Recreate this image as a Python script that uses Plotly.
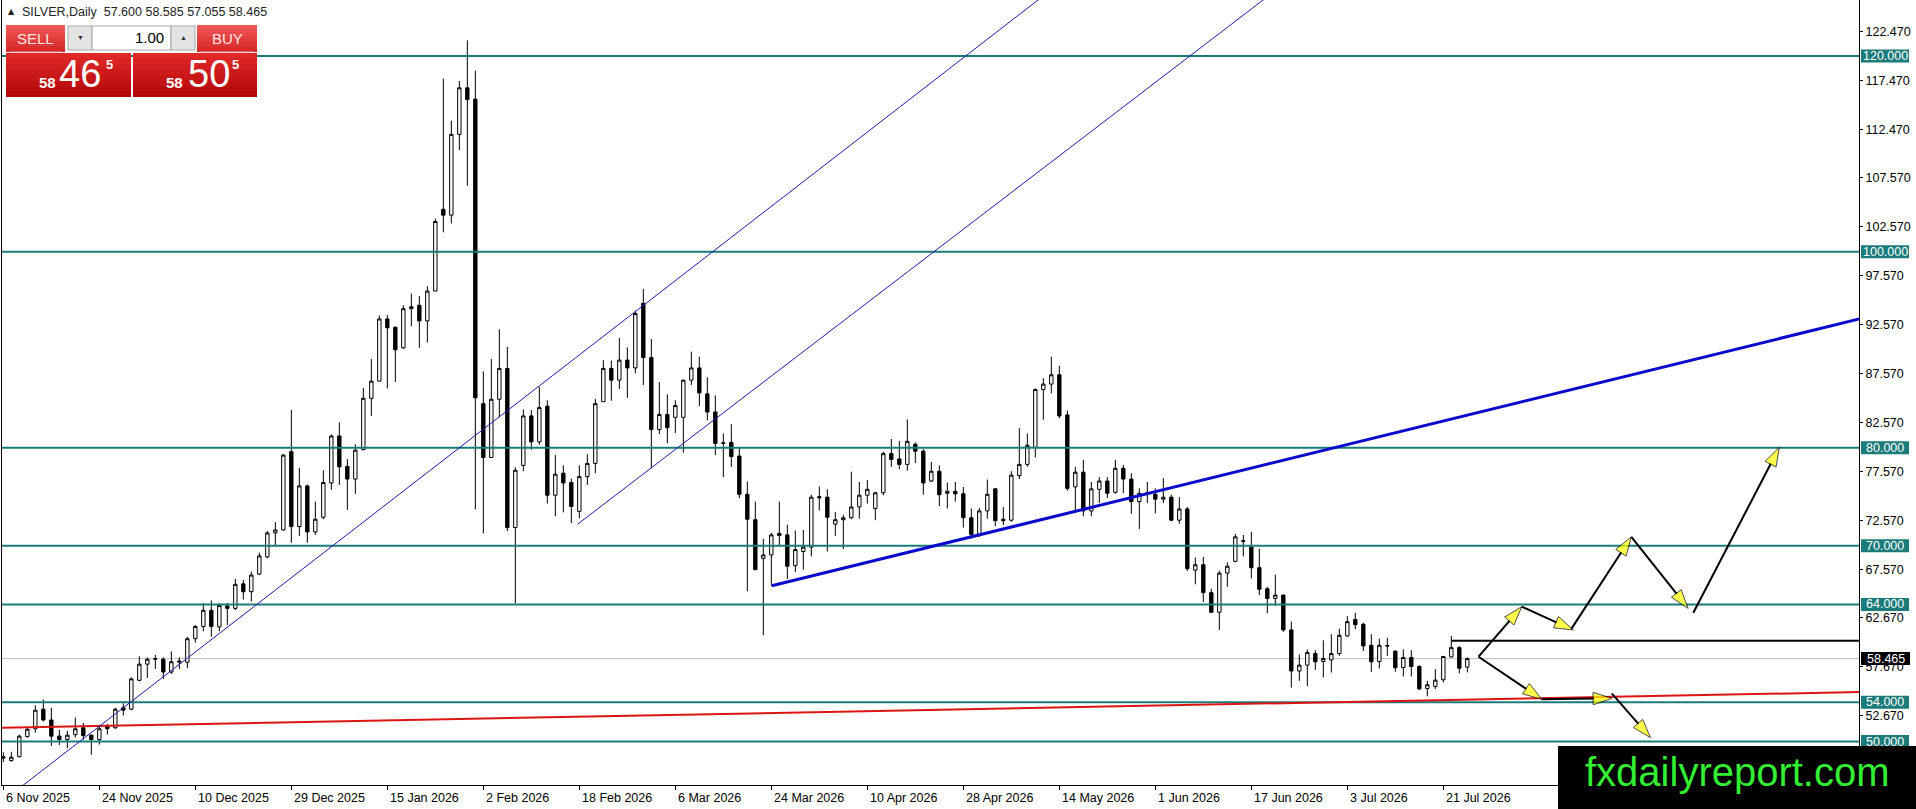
import plotly.graph_objects as go

# daily candles, bar 0 = 6 Nov 2025, one label every 12 bars
opens = [48.3, 48.05, 48.45, 50.5, 51.3, 53.3, 52.2, 50.55, 50.2, 50.7,
         51.4, 50.65, 50.2, 51.55, 51.4, 53.45, 53.3, 56.25, 57.9, 58.4,
         58.4, 57.1, 58.1, 58.1, 60.5, 61.75, 63.4, 61.7, 63.85, 63.6,
         66.1, 65.3, 67.1, 68.85, 71.3, 71.6, 79.6, 71.95, 76.1, 71.4,
         72.9, 76.4, 81.2, 78.1, 76.8, 79.8, 85.05, 86.8, 93.15, 92.3,
         90.2, 94.2, 94.55, 92.95, 96.0, 104.35, 103.75, 112.0, 116.75, 115.6,
         84.5, 79.0, 84.95, 88.1, 71.85, 78.2, 83.25, 80.6, 84.25, 75.15,
         77.4, 76.45, 73.5, 77.05, 78.4, 84.7, 88.1, 86.9, 88.95, 88.15,
         94.75, 89.2, 81.85, 83.4, 83.1, 83.1, 86.9, 88.15, 85.5, 83.65,
         80.5, 80.55, 79.15, 75.25, 72.65, 68.7, 69.05, 71.25, 71.1, 67.95,
         69.4, 69.85, 75.0, 74.95, 72.2, 72.65, 72.85, 73.95, 75.15, 73.8,
         75.4, 79.4, 78.85, 78.3, 80.35, 79.65, 76.6, 77.6, 75.35, 75.55,
         75.3, 72.85, 71.15, 73.55, 75.8, 72.7, 72.6, 77.15, 78.3, 80.05,
         85.95, 86.5, 87.45, 83.35, 76.0, 77.5, 73.55, 75.75, 76.6, 75.45,
         77.9, 76.8, 74.5, 75.25, 75.25, 74.75, 74.95, 72.6, 73.75, 67.5,
         68.05, 65.2, 63.2, 67.2, 68.4, 70.5, 69.85, 67.75, 65.6, 64.6,
         64.95, 61.4, 57.2, 57.8, 58.98, 58.17, 58.34, 58.98, 60.78, 62.47,
         61.97, 59.83, 58.17, 59.8, 59.22, 57.56, 58.58, 57.66, 55.42, 55.63,
         56.31, 58.64, 59.59, 57.6]
highs = [48.9, 48.95, 50.7, 51.45, 53.7, 54.3, 53.45, 51.2, 51.1, 52.45,
         51.9, 50.7, 51.7, 51.8, 53.45, 53.9, 56.55, 58.7, 58.6, 58.85,
         58.6, 59.2, 58.6, 60.7, 61.9, 64.15, 64.4, 64.1, 64.15, 66.6,
         66.5, 67.35, 69.3, 71.5, 72.4, 79.35, 83.85, 77.95, 76.25, 74.5,
         77.7, 81.35, 82.6, 78.85, 80.35, 86.1, 89.05, 93.5, 93.55, 92.4,
         94.55, 95.75, 95.5, 96.5, 103.4, 117.7, 113.4, 117.45, 121.6, 118.5,
         87.8, 89.05, 92.1, 90.3, 78.0, 83.9, 83.85, 86.2, 84.85, 79.25,
         78.2, 76.85, 78.2, 79.35, 85.0, 88.95, 88.9, 91.2, 90.25, 94.0,
         96.2, 91.1, 86.7, 85.45, 84.85, 86.95, 89.8, 89.3, 87.2, 85.35,
         81.45, 82.4, 79.95, 76.55, 74.5, 70.7, 71.3, 74.5, 72.15, 71.55,
         71.6, 75.2, 76.05, 75.75, 73.45, 73.15, 77.55, 76.5, 76.7, 75.5,
         79.6, 80.9, 80.7, 82.9, 80.55, 79.85, 78.55, 78.2, 76.45, 76.5,
         76.0, 73.8, 73.85, 76.75, 75.9, 73.95, 77.6, 82.0, 81.45, 86.05,
         87.1, 89.3, 88.35, 83.8, 78.05, 78.75, 76.5, 77.0, 77.0, 78.75,
         78.25, 77.4, 75.85, 76.5, 75.85, 76.9, 75.2, 74.95, 73.95, 68.8,
         68.85, 65.6, 67.45, 68.3, 71.2, 71.1, 71.4, 69.7, 65.8, 67.05,
         65.0, 62.25, 58.9, 59.4, 59.32, 60.34, 60.95, 61.53, 62.81, 63.15,
         62.14, 60.95, 60.51, 60.6, 59.32, 59.42, 59.32, 57.8, 56.2, 57.39,
         58.75, 60.78, 59.76, 58.585]
lows = [47.9, 47.95, 48.4, 50.4, 50.9, 52.05, 49.55, 49.65, 49.3, 50.4,
        50.2, 48.65, 49.7, 50.7, 51.3, 52.65, 53.2, 56.15, 56.5, 57.4,
        56.4, 56.9, 57.4, 57.5, 60.1, 61.25, 60.7, 61.25, 61.9, 63.4,
        64.5, 64.3, 67.0, 68.7, 69.96, 71.55, 70.3, 71.0, 70.3, 71.1,
        72.7, 75.7, 76.2, 73.65, 75.3, 79.75, 83.25, 86.8, 86.05, 86.7,
        90.1, 92.4, 90.2, 90.75, 96.0, 102.0, 102.9, 110.4, 106.75, 73.7,
        71.25, 79.0, 83.1, 71.5, 64.1, 77.6, 79.8, 80.3, 74.3, 73.0,
        73.4, 72.3, 72.8, 76.2, 77.4, 84.7, 84.8, 86.0, 85.1, 87.6,
        86.4, 77.9, 81.4, 80.45, 81.5, 79.5, 86.4, 84.25, 82.8, 79.25,
        77.0, 78.05, 74.85, 65.35, 67.5, 60.85, 65.9, 69.95, 66.6, 67.3,
        67.55, 68.9, 73.6, 69.4, 71.0, 69.65, 72.7, 72.75, 74.3, 72.6,
        75.15, 78.05, 77.8, 77.65, 78.45, 75.2, 76.5, 74.05, 73.8, 74.5,
        71.85, 70.7, 70.9, 72.75, 72.0, 72.1, 72.45, 76.8, 78.05, 79.0,
        82.85, 85.55, 83.0, 75.6, 73.6, 73.0, 73.0, 74.35, 74.85, 75.3,
        75.35, 73.25, 71.7, 74.35, 73.3, 74.35, 72.5, 72.25, 67.4, 66.05,
        64.25, 63.15, 61.4, 65.8, 68.3, 68.9, 66.65, 64.95, 63.1, 63.85,
        61.2, 55.5, 56.2, 55.65, 57.32, 56.54, 57.05, 58.75, 60.71, 61.46,
        59.25, 57.12, 57.46, 58.75, 57.12, 56.64, 56.64, 55.29, 54.61, 55.36,
        56.03, 58.58, 56.95, 57.055]
closes = [48.45, 48.4, 50.55, 51.25, 53.2, 52.2, 50.55, 50.2, 50.65, 51.3,
          50.6, 50.2, 51.3, 51.3, 53.3, 53.2, 56.4, 57.9, 58.4, 58.45,
          57.1, 58.15, 58.2, 60.5, 61.75, 63.4, 61.75, 63.9, 63.6, 66.05,
          65.3, 67.0, 68.95, 71.3, 71.6, 79.25, 71.95, 76.1, 71.4, 72.7,
          76.45, 81.2, 78.05, 76.8, 79.75, 85.05, 86.8, 93.15, 92.25, 90.0,
          94.2, 94.4, 92.95, 96.0, 103.1, 103.75, 112.0, 116.75, 115.55, 85.1,
          79.0, 84.95, 88.1, 71.85, 77.7, 83.25, 80.6, 84.1, 75.15, 77.3,
          76.4, 74.0, 77.05, 78.4, 84.5, 88.1, 86.9, 88.95, 88.15, 93.7,
          89.2, 81.85, 83.4, 82.05, 84.3, 86.9, 88.15, 85.6, 83.65, 80.45,
          80.45, 79.1, 75.25, 72.7, 67.55, 69.05, 71.1, 71.05, 67.9, 69.6,
          69.85, 74.95, 74.9, 72.9, 72.65, 72.85, 73.95, 75.15, 75.75, 75.4,
          79.4, 78.8, 78.3, 80.65, 79.65, 76.4, 77.6, 75.2, 75.55, 75.3,
          72.85, 71.15, 73.55, 75.25, 72.55, 72.55, 77.2, 78.3, 80.25, 85.95,
          86.5, 87.45, 83.25, 75.85, 77.5, 73.55, 75.8, 76.6, 75.35, 77.9,
          76.8, 74.5, 75.35, 75.4, 74.75, 74.95, 72.6, 73.75, 67.65, 68.05,
          65.2, 63.2, 67.2, 67.9, 70.9, 70.45, 67.75, 65.55, 64.6, 64.95,
          61.4, 57.2, 57.8, 59.1, 58.14, 58.47, 58.98, 60.85, 62.24, 61.93,
          59.76, 58.14, 59.83, 59.76, 57.53, 58.58, 57.66, 55.36, 55.8, 56.27,
          58.68, 59.59, 57.49, 58.465]

date_labels = ["6 Nov 2025", "24 Nov 2025", "10 Dec 2025", "29 Dec 2025",
               "15 Jan 2026", "2 Feb 2026", "18 Feb 2026", "6 Mar 2026",
               "24 Mar 2026", "10 Apr 2026", "28 Apr 2026", "14 May 2026",
               "1 Jun 2026", "17 Jun 2026", "3 Jul 2026", "21 Jul 2026"]
bars_per_label = 12

price_ticks = [122.47, 117.47, 112.47, 107.57, 102.57, 97.57, 92.57, 87.57,
               82.57, 77.57, 72.57, 67.57, 62.67, 57.67, 52.67]
levels = [120, 100, 80, 70, 64, 54, 50]
last_price = 58.465
header = "SILVER,Daily\u00a0\u00a057.600 58.585 57.055 58.465"

# drawn objects, (bar, price) pairs
channel_a = [(0.0, 43.97), (132.0, 127.4)]
channel_b = [(71.8, 72.2), (160.0, 127.3)]
trend_up = [(96.05, 65.9), (232.0, 93.15)]
red_line = [(-0.4, 51.4), (232.0, 55.05)]
black_level = [(181.0, 60.3), (232.0, 60.3)]
arrows = [
    [(184.4, 58.66), (189.8, 63.77)],
    [(189.8, 63.77), (196.25, 61.39)],
    [(196.0, 61.5), (203.5, 70.9)],
    [(203.5, 70.9), (210.6, 63.6)],
    [(211.25, 63.15), (222.0, 80.04)],
    [(184.4, 58.66), (192.3, 54.31)],
    [(192.3, 54.31), (201.1, 54.41)],
    [(201.05, 54.92), (205.9, 50.39)],
]

X_LO, X_HI = -0.166, 231.96
Y_LO, Y_HI = 45.56, 125.72

W, H = 1916, 809
ML, MR, MT, MB = 2, 57, 0, 24
PW, PH = W - ML - MR, H - MT - MB


def px(x):
    return (x - ML) / PW


def py(y):
    return 1 - (y - MT) / PH


def pp(price):
    return (price - Y_LO) / (Y_HI - Y_LO)


TEAL = "#1b7b7b"
FONT = "Liberation Sans"

fig = go.Figure()

fig.add_trace(go.Candlestick(
    x=list(range(len(closes))), open=opens, high=highs, low=lows, close=closes,
    increasing=dict(line=dict(color="black", width=1), fillcolor="white"),
    decreasing=dict(line=dict(color="black", width=1), fillcolor="black"),
    whiskerwidth=0, hoverinfo="skip", showlegend=False))


def add_line(pts, color, width):
    fig.add_trace(go.Scatter(x=[p[0] for p in pts], y=[p[1] for p in pts],
                             mode="lines", line=dict(color=color, width=width),
                             hoverinfo="skip", showlegend=False))


for lvl in levels:
    add_line([(X_LO, lvl), (X_HI, lvl)], TEAL, 2)
add_line(red_line, "#dd1414", 2)
add_line(channel_a, "#1c1caa", 1)
add_line(channel_b, "#1c1caa", 1)
add_line(trend_up, "#0a0acc", 3)
add_line(black_level, "black", 2)

for seg in arrows:
    fig.add_trace(go.Scatter(
        x=[p[0] for p in seg], y=[p[1] for p in seg], mode="lines+markers",
        line=dict(color="black", width=2),
        marker=dict(symbol="arrow", size=[0, 20], angleref="previous",
                    color="#ffff00", line=dict(color="black", width=1)),
        hoverinfo="skip", showlegend=False))

shapes = []
annotations = []

# current price line
shapes.append(dict(type="line", xref="paper", yref="y", x0=0, x1=1,
                   y0=last_price, y1=last_price, layer="below",
                   line=dict(color="#c0c0c0", width=1)))

# date labels under the axis
for k, lab in enumerate(date_labels):
    annotations.append(dict(x=k * bars_per_label, y=0, xref="x", yref="paper",
                            text=lab, showarrow=False, xanchor="left",
                            yanchor="top", xshift=1, yshift=-4,
                            font=dict(family=FONT, size=12.5, color="black")))


def tag(price, fill, x0, x1):
    shapes.append(dict(type="rect", xref="paper", yref="paper",
                       x0=px(x0), x1=px(x1), y0=pp(price) - 6.5 / PH,
                       y1=pp(price) + 6.5 / PH, fillcolor=fill, line_width=0,
                       layer="above"))
    annotations.append(dict(x=px((x0 + x1) / 2), y=pp(price), xref="paper",
                            yref="paper", text=f"{price:.3f}", showarrow=False,
                            xanchor="center", yanchor="middle",
                            font=dict(family=FONT, size=12.5, color="white")))


# level boxes on the price scale
for lvl in levels:
    tag(lvl, TEAL, 1861, 1909)
tag(last_price, "black", 1861, 1910)

# header
annotations.append(dict(x=px(11), y=py(12), xref="paper", yref="paper", text="▲",
                        showarrow=False, xanchor="center", yanchor="middle",
                        font=dict(family="DejaVu Sans", size=8, color="#222222")))
annotations.append(dict(x=px(20), y=py(12), xref="paper", yref="paper",
                        text=header, showarrow=False, xanchor="left",
                        yanchor="middle",
                        font=dict(family=FONT, size=12.5, color="#222222")))


def gradient(x0, y0, x1, y1, top, bottom, steps=8):
    for s in range(steps):
        t = s / (steps - 1)
        c = tuple(round(top[i] + (bottom[i] - top[i]) * t) for i in range(3))
        ya = y0 + (y1 - y0) * s / steps
        yb = y0 + (y1 - y0) * (s + 1) / steps + 0.6
        shapes.append(dict(type="rect", xref="paper", yref="paper",
                           x0=px(x0), x1=px(x1), y0=py(min(yb, y1)), y1=py(ya),
                           fillcolor="rgb(%d,%d,%d)" % c, line_width=0,
                           layer="above"))


def rect(x0, y0, x1, y1, fill, edge=None):
    shapes.append(dict(type="rect", xref="paper", yref="paper", x0=px(x0),
                       x1=px(x1), y0=py(y1), y1=py(y0), fillcolor=fill,
                       line=dict(color=edge or fill, width=1 if edge else 0),
                       layer="above"))


def text(x, y, s, size, color="white", anchor="center", bold=False):
    annotations.append(dict(x=px(x), y=py(y), xref="paper", yref="paper",
                            text=f"<b>{s}</b>" if bold else s, showarrow=False,
                            xanchor=anchor, yanchor="middle",
                            font=dict(family=FONT, size=size, color=color)))


# one-click trading panel
gradient(6, 25, 65, 52, (240, 86, 86), (214, 38, 38))
gradient(197, 25, 257, 52, (240, 86, 86), (214, 38, 38))
gradient(6, 53, 131, 97, (224, 40, 40), (180, 8, 8))
gradient(133, 53, 257, 97, (224, 40, 40), (180, 8, 8))
rect(9, 51.5, 62, 52.5, "#f3a0a0")
rect(200, 51.5, 254, 52.5, "#f3a0a0")
rect(68, 26, 92, 50, "#e4e4e4", "#a8a8a8")
rect(92, 26, 171, 50, "white", "#a8a8a8")
rect(171, 26, 195, 50, "#e4e4e4", "#a8a8a8")
text(35.5, 39, "SELL", 15, "#fbe6e6")
text(227, 39, "BUY", 15, "#fbe6e6")
text(80, 38, "▼", 7, "#333333")
text(183, 38, "▲", 7, "#333333")
text(166, 38, "1.00", 15, "black", "right")
text(47, 83, "58", 15, bold=True)
text(80, 74, "46", 38)
text(109, 65, "5", 13, bold=True)
text(174, 83, "58", 15, bold=True)
text(209, 74, "50", 38)
text(235, 65, "5", 13, bold=True)

# site logo
rect(1558, 746, 1916, 809, "black")
text(1737, 772, "fxdailyreport.com", 40, "#33ee33")

fig.update_layout(
    width=W, height=H, margin=dict(l=ML, r=MR, t=MT, b=MB),
    paper_bgcolor="white", plot_bgcolor="white", boxgap=0.4,
    shapes=shapes, annotations=annotations, showlegend=False,
    xaxis=dict(range=[X_LO, X_HI], showgrid=False, zeroline=False,
               showline=True, linecolor="black", linewidth=1,
               tickvals=[k * bars_per_label for k in range(len(date_labels))],
               showticklabels=False, ticks="outside", ticklen=4,
               tickcolor="black", rangeslider=dict(visible=False),
               fixedrange=True),
    yaxis=dict(range=[Y_LO, Y_HI], side="right", showgrid=False,
               zeroline=False, showline=True, mirror=True, linecolor="black",
               linewidth=1, tickvals=price_ticks,
               ticktext=[f"{v:.3f}" for v in price_ticks], ticks="outside",
               ticklen=3, tickcolor="black",
               tickfont=dict(family=FONT, size=12.5, color="black"),
               fixedrange=True),
)

# page margin off so the 1916x809 figure fills the window exactly
fig.write_html("out.html", config={"displayModeBar": False},
               post_script="document.body.style.margin='0';")
